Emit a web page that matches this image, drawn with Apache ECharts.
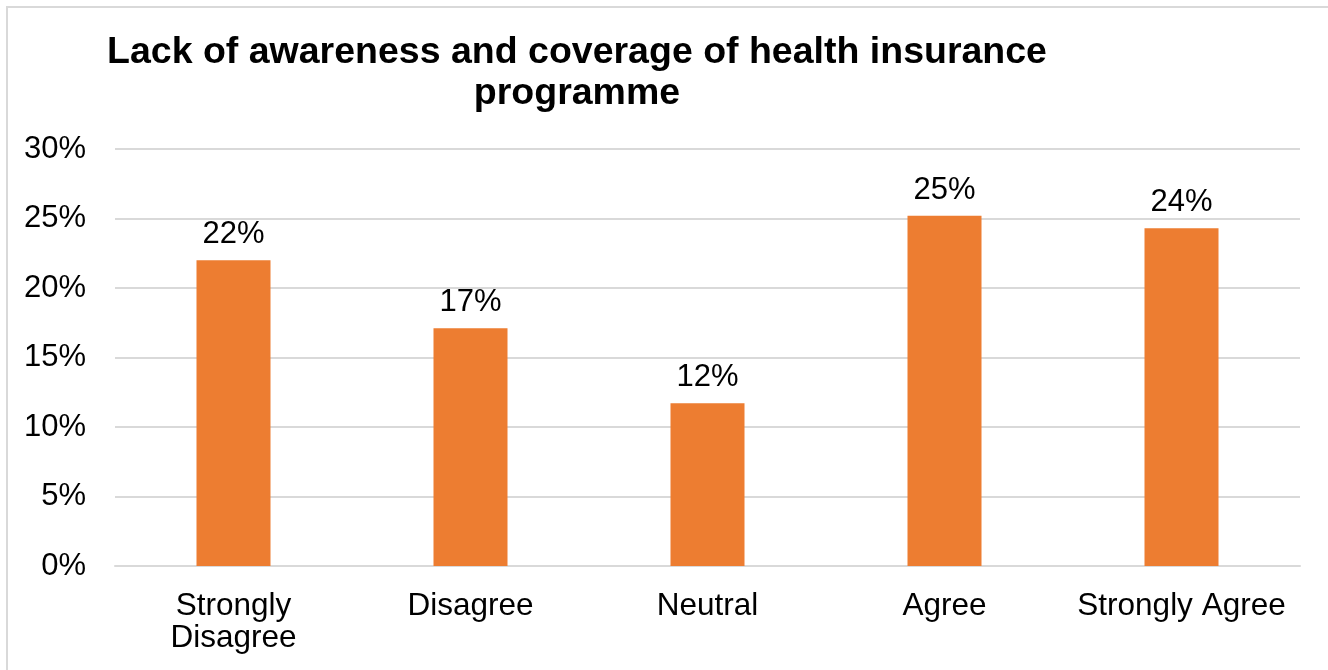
<!DOCTYPE html>
<html><head><meta charset="utf-8">
<script src="https://cdn.jsdelivr.net/npm/echarts@6/dist/echarts.min.js"></script>
<style>
html,body{margin:0;padding:0;background:#fff;}
#frame{position:absolute;left:6px;top:6px;width:1340px;height:690px;border:2px solid #d9d9d9;box-sizing:border-box;}
#c{position:absolute;left:0;top:0;width:1328px;height:670px;}
</style></head>
<body>
<div id="frame"></div>
<div id="c"></div>
<script>
const titleText = 'Lack of awareness and coverage of health insurance\nprogramme';
const categories = ['Strongly\nDisagree', 'Disagree', 'Neutral', 'Agree', 'Strongly Agree'];
const values = [0.220, 0.171, 0.117, 0.252, 0.243];
const yTicks = [0, 0.05, 0.10, 0.15, 0.20, 0.25, 0.30];

const chart = echarts.init(document.getElementById('c'), null, {renderer: 'canvas'});
const font = 'Liberation Sans, Arial, sans-serif';
chart.setOption({
  animation: false,
  title: {
    text: titleText,
    left: 572, top: 27, textAlign: 'center',
    textStyle: {fontFamily: font, fontSize: 37.5, fontWeight: 'bold', color: '#000', lineHeight: 41}
  },
  grid: {left: 115, right: 28, top: 149, bottom: 104, containLabel: false},
  xAxis: {
    type: 'category', data: categories,
    axisLine: {show: true, lineStyle: {color: '#d9d9d9', width: 2}},
    axisTick: {show: false},
    axisLabel: {fontFamily: font, fontSize: 31.5, color: '#000', margin: 24, lineHeight: 32, interval: 0}
  },
  yAxis: {
    type: 'value', min: 0, max: 0.30, interval: 0.05,
    axisLine: {show: false}, axisTick: {show: false},
    splitLine: {lineStyle: {color: '#d9d9d9', width: 2}},
    axisLabel: {fontFamily: font, fontSize: 31, color: '#000', margin: 29,
      formatter: v => Math.round(v * 100) + '%'}
  },
  series: [{
    type: 'bar', data: values, barWidth: 74,
    itemStyle: {color: '#ED7D31'},
    label: {show: true, position: 'top', distance: 10, fontFamily: font, fontSize: 31, color: '#000',
      formatter: p => Math.round(p.value * 100) + '%'}
  }]
});
</script>
</body></html>
